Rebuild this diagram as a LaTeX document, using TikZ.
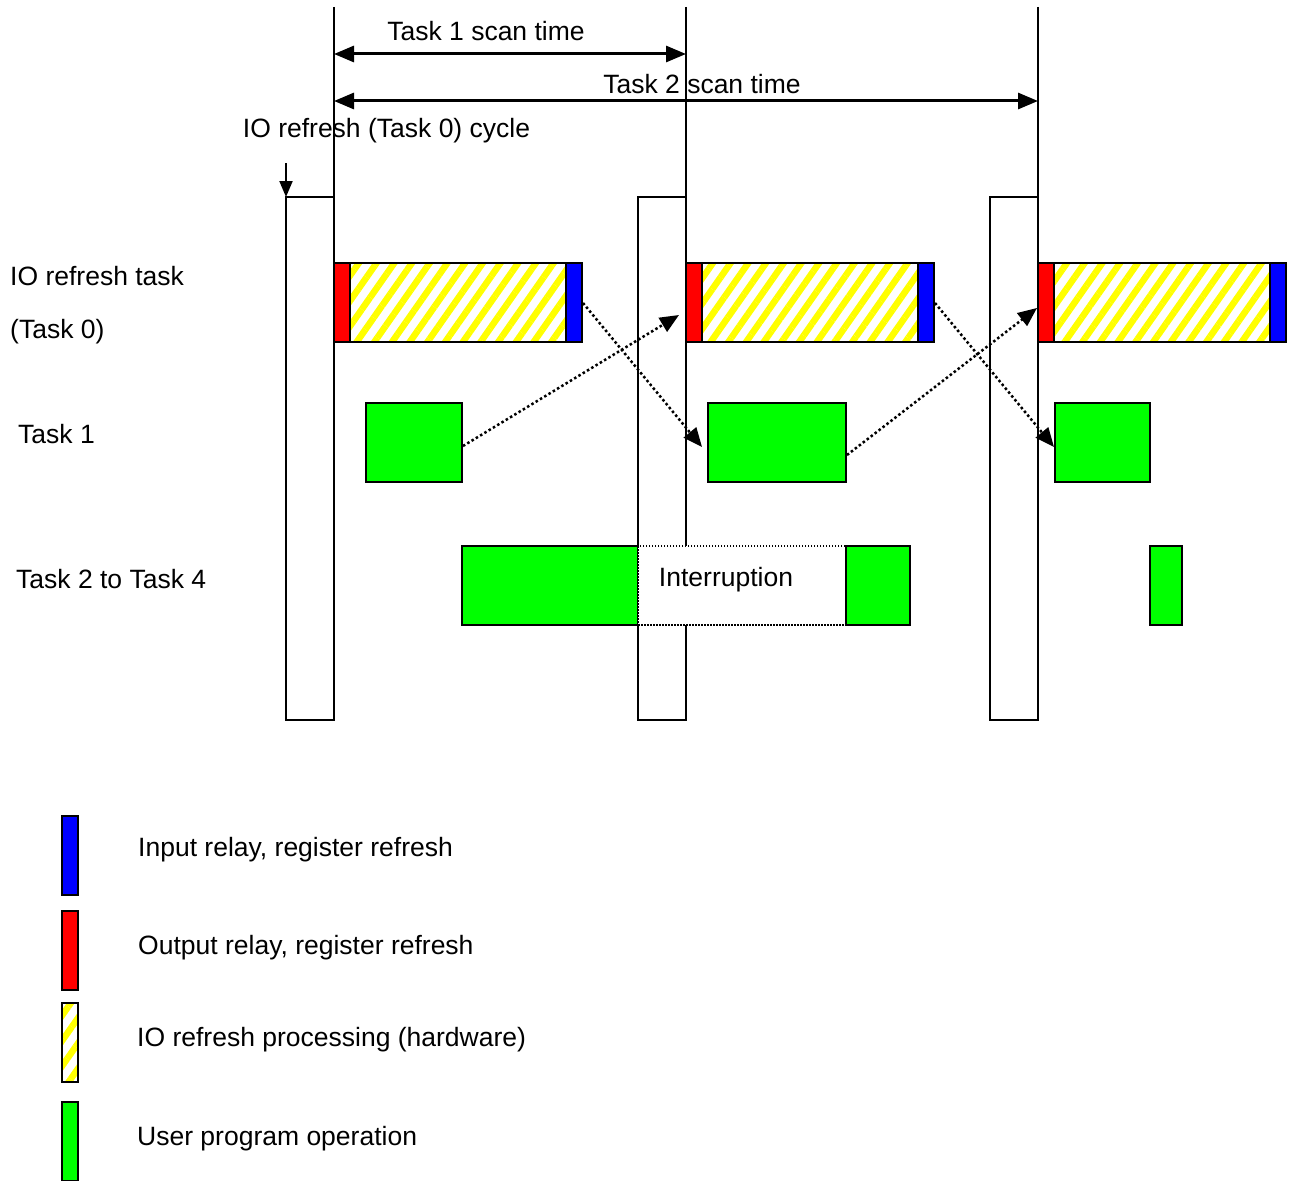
\documentclass[tikz,border=0pt]{standalone}
\usepackage{fontspec}
\setmainfont{Liberation Sans}
\usetikzlibrary{arrows.meta,patterns.meta}
\begin{document}
\begin{tikzpicture}[x=1pt,y=-1pt,
  lbl/.style={font=\fontsize{26.5}{30}\selectfont,inner sep=0pt,anchor=base west},
  lblc/.style={font=\fontsize{26.5}{30}\selectfont,inner sep=0pt,anchor=base},
  cyc/.style={rectangle,draw=black,line width=2pt,fill=white,inner sep=0,outer sep=0,minimum width=48pt,minimum height=523pt},
  blk/.style={rectangle,draw=black,line width=2pt,inner sep=0,outer sep=0,minimum height=79pt},
  outrel/.style={blk,fill=red,minimum width=16pt},
  inrel/.style={blk,fill=blue,minimum width=16pt},
  hatch/.style={blk,minimum width=216pt,preaction={fill=white},pattern={Lines[angle=55,distance=14.5pt,line width=6.5pt]},pattern color=yellow},
  user/.style={blk,fill=green},
  vline/.style={line width=2pt},
  span/.style={line width=3pt,{Triangle[length=20pt,width=16pt]}-{Triangle[length=20pt,width=16pt]}},
  flow/.style={line width=2.5pt,dash pattern=on 2.5pt off 2.5pt,-{Triangle[length=19pt,width=16pt]}}
]
\useasboundingbox (0,0) rectangle (1292,1180);
\clip (0,0) rectangle (1292,1180);

% cycle boxes
\node[cyc] (c1) at (310,458.5) {};
\node[cyc] (c2) at (662,458.5) {};
\node[cyc] (c3) at (1014,458.5) {};
\coordinate (t1) at (334,7);
\coordinate (t2) at (686,7);
\coordinate (t3) at (1038,7);
\draw[vline] (t1) -- (c1.north east);
\draw[vline] (t2) -- (c2.north east);
\draw[vline] (t3) -- (c3.north east);

% scan time arrows
\coordinate (s1a) at (334,54);
\coordinate (s1b) at (686,54);
\coordinate (s2a) at (334,101);
\coordinate (s2b) at (1038,101);
\draw[span] (s1a) -- (s1b);
\draw[span] (s2a) -- (s2b);
\node[lblc] (l1) at (486,40.5) {Task 1 scan time};
\node[lblc] (l2) at (702,93.5) {Task 2 scan time};
\node[lblc] (l3) at (386.5,137.5) {IO refresh (Task 0) cycle};
\coordinate (ca) at (286,163);
\draw[line width=2pt,-{Triangle[length=16pt,width=13pt]}] (ca) -- (c1.north west);

% IO refresh task rows
\node[outrel] (r1) at (342,302.5) {};
\node[hatch] (h1) at (458,302.5) {};
\node[inrel] (b1) at (574,302.5) {};
\node[outrel] (r2) at (694,302.5) {};
\node[hatch] (h2) at (810,302.5) {};
\node[inrel] (b2) at (926,302.5) {};
\node[outrel] (r3) at (1046,302.5) {};
\node[hatch] (h3) at (1162,302.5) {};
\node[inrel] (b3) at (1278,302.5) {};

% Task 1
\node[user,minimum width=96pt] (g1) at (414,442.5) {};
\node[user,minimum width=138pt] (g2) at (777,442.5) {};
\node[user,minimum width=95pt] (g3) at (1102.5,442.5) {};

% Task 2 to 4
\node[user,minimum width=176pt] (g4) at (550,585.5) {};
\node[rectangle,draw=black,line width=1.5pt,dash pattern=on 1.5pt off 1.5pt,fill=white,inner sep=0,minimum width=208pt,minimum height=79pt] (intr) at (742,585.5) {};
\node[lblc] (il) at (726,586) {Interruption};
\node[user,minimum width=64pt] (g5) at (878,585.5) {};
\node[user,minimum width=32pt] (g6) at (1166,585.5) {};

% dotted flows
\coordinate (f1a) at (583,303);
\coordinate (f1b) at (702,447);
\coordinate (f2a) at (463,446);
\coordinate (f2b) at (679,315);
\coordinate (f3a) at (935,303);
\coordinate (f3b) at (1054,447);
\coordinate (f4a) at (847,455);
\coordinate (f4b) at (1037,308);
\draw[flow] (f1a) -- (f1b);
\draw[flow] (f2a) -- (f2b);
\draw[flow] (f3a) -- (f3b);
\draw[flow] (f4a) -- (f4b);

% left labels
\node[lbl] (a1) at (10,285.5) {IO refresh task};
\node[lbl] (a2) at (10,338.5) {(Task 0)};
\node[lbl] (a3) at (18,443.5) {Task 1};
\node[lbl] (a4) at (16,588.5) {Task 2 to Task 4};

% legend
\node[inrel] (k1) at (70,855.5) {};
\node[outrel] (k2) at (70,950.5) {};
\node[hatch,minimum width=16pt] (k3) at (70,1042.5) {};
\node[user,minimum width=16pt] (k4) at (70,1141.5) {};
\node[lbl] (kt1) at (138,856.5) {Input relay, register refresh};
\node[lbl] (kt2) at (138,954.5) {Output relay, register refresh};
\node[lbl] (kt3) at (137,1046.5) {IO refresh processing (hardware)};
\node[lbl] (kt4) at (137,1145.5) {User program operation};
\end{tikzpicture}
\end{document}
